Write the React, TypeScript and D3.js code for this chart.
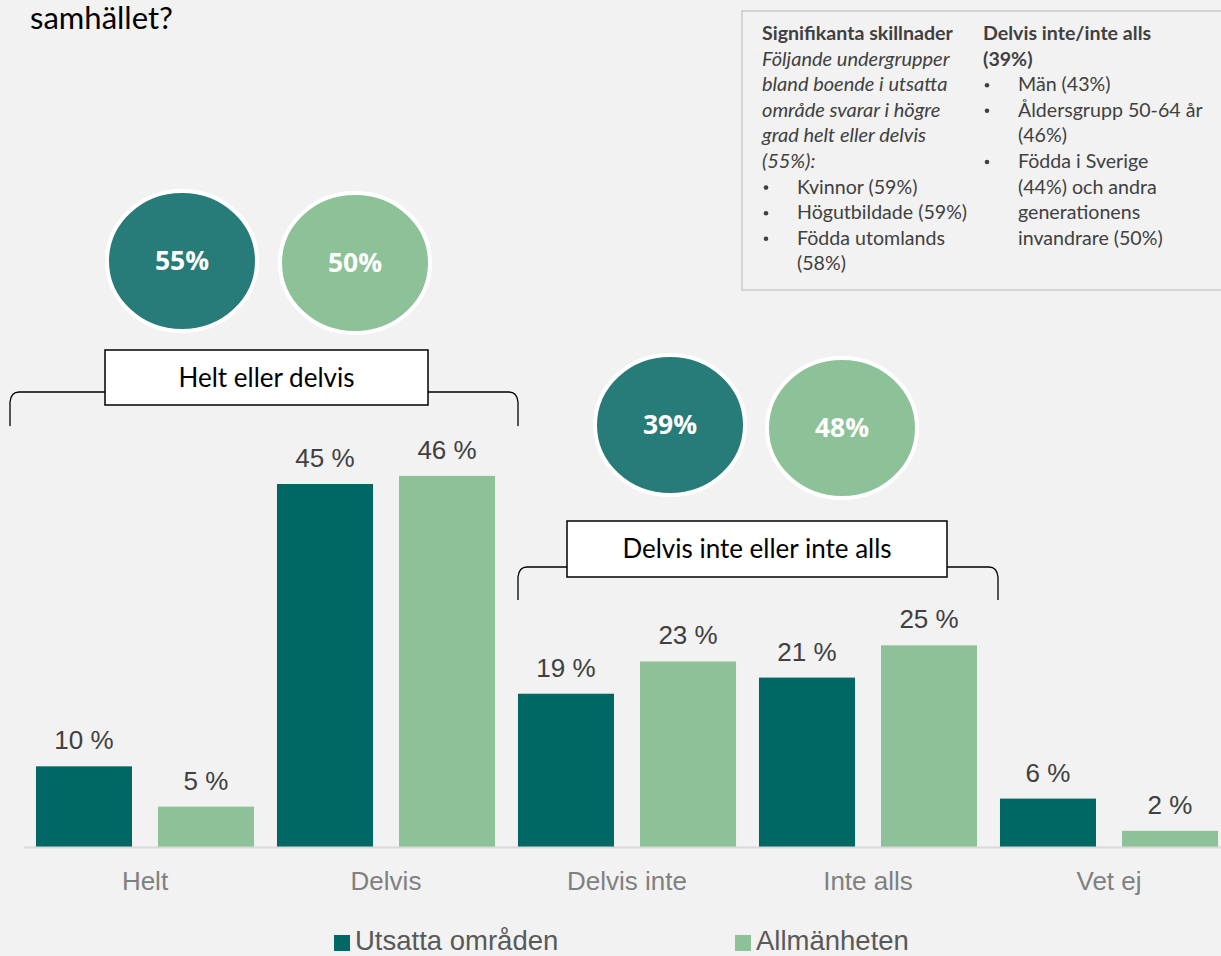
import React from "react";
import * as d3 from "d3";

const categories = ["Helt", "Delvis", "Delvis inte", "Inte alls", "Vet ej"];
const seriesNames = ["Utsatta områden", "Allmänheten"];
const utsatta = [10, 45, 19, 21, 6];
const allmanheten = [5, 46, 23, 25, 2];
const summaryHelt = ["55%", "50%"];
const summaryInte = ["39%", "48%"];
const bracketLabels = ["Helt eller delvis", "Delvis inte eller inte alls"];

const col1 = [
  { t: "Signifikanta skillnader", s: "b" },
  { t: "Följande undergrupper", s: "i" },
  { t: "bland boende i utsatta", s: "i" },
  { t: "område svarar i högre", s: "i" },
  { t: "grad helt eller delvis", s: "i" },
  { t: "(55%):", s: "i" },
  { t: "Kvinnor (59%)", s: "bul" },
  { t: "Högutbildade (59%)", s: "bul" },
  { t: "Födda utomlands", s: "bul" },
  { t: "(58%)", s: "cont" },
];
const col2 = [
  { t: "Delvis inte/inte alls", s: "b" },
  { t: "(39%)", s: "b" },
  { t: "Män (43%)", s: "bul" },
  { t: "Åldersgrupp 50-64 år", s: "bul" },
  { t: "(46%)", s: "cont" },
  { t: "Födda i Sverige", s: "bul" },
  { t: "(44%) och andra", s: "cont" },
  { t: "generationens", s: "cont" },
  { t: "invandrare (50%)", s: "cont" },
];

const DARK = "#006864";
const LIGHT = "#8dc197";
const CDARK = "#277b78";
const BG = "#f2f2f2";
const CAL = "Lato, 'Open Sans', sans-serif";
const ARIAL = "'Liberation Sans', Arial, sans-serif";

export default function App() {
  const W = 1221, H = 956;
  const x = d3.scaleBand<string>().domain(categories).range([24.5, 1229.5]).padding(0);
  const inner = d3.scaleBand<string>().domain(seriesNames).range([0, x.step()]).paddingInner(0.213).paddingOuter(0.094);
  const y = d3.scaleLinear().domain([0, 45]).range([847, 484]);
  const series = [utsatta, allmanheten];
  const colors = [DARK, LIGHT];

  const bracket = (x0: number, x1: number, yTop: number, yBot: number) =>
    `M${x0},${yBot} L${x0},${yTop + 10} Q${x0 + 1},${yTop} ${x0 + 9},${yTop} L${x1 - 9},${yTop} Q${x1 - 1},${yTop} ${x1},${yTop + 10} L${x1},${yBot}`;

  const renderCol = (lines: { t: string; s: string }[], x0: number) =>
    lines.map((l, i) => {
      const yy = 40 + i * 25.6;
      const fs = l.s === "i" ? 20 : 19.6;
      if (l.s === "bul") {
        return (
          <g key={i}>
            <circle cx={x0 + 4} cy={yy - 6} r={2.3} fill="#404040" />
            <text x={x0 + 35} y={yy} fontSize={fs} fontFamily={CAL} fill="#404040">{l.t}</text>
          </g>
        );
      }
      return (
        <text key={i} x={l.s === "cont" ? x0 + 35 : x0} y={yy} fontSize={fs} fontFamily={CAL} fill="#404040"
          fontWeight={l.s === "b" ? 700 : 400} fontStyle={l.s === "i" ? "italic" : "normal"}>{l.t}</text>
      );
    });

  const circle = (cx: number, cy: number, fill: string, label: string, key: string) => (
    <g key={key}>
      <ellipse cx={cx} cy={cy} rx={75} ry={70} fill={fill} stroke="#ffffff" strokeWidth={4} />
      <text x={cx} y={cy + 9} textAnchor="middle" fontSize={26.5} fontWeight={700} fontFamily="'Open Sans', sans-serif" fill="#ffffff">{label}</text>
    </g>
  );

  return (
    <svg width={W} height={H} style={{ display: "block", position: "absolute", left: 0, top: 0, background: BG }}>
      <rect x={0} y={0} width={W} height={H} fill={BG} />
      <text x={30} y={29} fontSize={31} fontFamily={CAL} fill="#000">samhället?</text>

      {/* info box */}
      <rect x={742} y={11} width={500} height={279} fill={BG} stroke="#d4d4d4" strokeWidth={2} />
      {renderCol(col1, 762)}
      {renderCol(col2, 983)}

      {/* circles */}
      {circle(182, 261, CDARK, summaryHelt[0], "c1")}
      {circle(355, 263, LIGHT, summaryHelt[1], "c2")}
      {circle(670, 425, CDARK, summaryInte[0], "c3")}
      {circle(842, 428, LIGHT, summaryInte[1], "c4")}

      {/* brackets */}
      <path d={bracket(10, 518, 392, 426)} fill="none" stroke="#000" strokeWidth={1.3} />
      <rect x={105} y={350} width={323} height={55} fill="#fff" stroke="#000" strokeWidth={1.5} />
      <text x={266.5} y={387} textAnchor="middle" fontSize={26} fontFamily={CAL} fill="#000">{bracketLabels[0]}</text>

      <path d={bracket(518, 998, 567, 600)} fill="none" stroke="#000" strokeWidth={1.3} />
      <rect x={567} y={521} width={380} height={56} fill="#fff" stroke="#000" strokeWidth={1.5} />
      <text x={757} y={558} textAnchor="middle" fontSize={26} fontFamily={CAL} fill="#000">{bracketLabels[1]}</text>

      {/* bars */}
      {categories.map((c, ci) => (
        <g key={c} transform={`translate(${x(c)},0)`}>
          {series.map((s, si) => {
            const bx = inner(seriesNames[si])!;
            const top = y(s[ci]);
            return (
              <g key={si}>
                <rect x={bx} y={top} width={inner.bandwidth()} height={y(0) - top} fill={colors[si]} />
                <text x={bx + inner.bandwidth() / 2} y={top - 17} textAnchor="middle" fontSize={26} fontFamily={ARIAL} fill="#404040">{`${s[ci]} %`}</text>
              </g>
            );
          })}
          <text x={x.bandwidth() / 2} y={890} textAnchor="middle" fontSize={26} fontFamily={ARIAL} fill="#808080">{c}</text>
        </g>
      ))}
      <line x1={24} x2={W} y1={847.5} y2={847.5} stroke="#d9d9d9" strokeWidth={2} />

      {/* legend */}
      {seriesNames.map((n, i) => (
        <g key={n} transform={`translate(${i === 0 ? 334 : 735},0)`}>
          <rect x={0} y={935} width={16} height={16} fill={colors[i]} />
          <text x={21} y={950} fontSize={27.5} fontFamily={ARIAL} fill="#595959">{n}</text>
        </g>
      ))}
    </svg>
  );
}
